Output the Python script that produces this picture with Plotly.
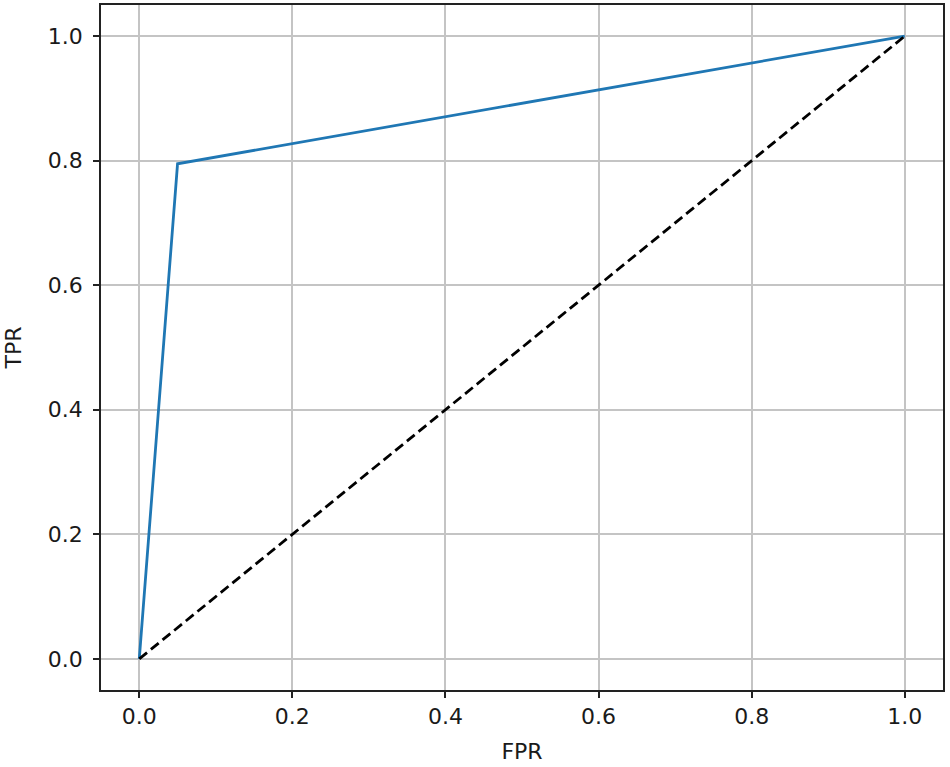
import plotly.graph_objects as go

# ROC curve values
fpr = [0.0, 0.05, 1.0]
tpr = [0.0, 0.795, 1.0]
# chance line
diag_x = [0.0, 1.0]
diag_y = [0.0, 1.0]
tick_vals = [0.0, 0.2, 0.4, 0.6, 0.8, 1.0]
tick_text = ['0.0', '0.2', '0.4', '0.6', '0.8', '1.0']

font = dict(family='DejaVu Sans', size=22, color='#1a1a1a')

fig = go.Figure()
fig.add_trace(go.Scatter(x=fpr, y=tpr, mode='lines',
                         line=dict(color='#1f77b4', width=2.8), showlegend=False))
fig.add_trace(go.Scatter(x=diag_x, y=diag_y, mode='lines',
                         line=dict(color='black', width=2.8, dash='10px,5px'), showlegend=False))

axis_style = dict(
    tickvals=tick_vals, ticktext=tick_text,
    showgrid=True, gridcolor='#c4c4c4', gridwidth=1.6,
    zeroline=False, showline=True, mirror=True,
    linecolor='#222222', linewidth=1.6,
    ticks='outside', ticklen=6, tickwidth=1.6, tickcolor='#222222',
    tickfont=font,
)

fig.update_xaxes(range=[-0.05, 1.05], title=dict(text='FPR', standoff=15, font=font), **axis_style)
fig.update_yaxes(range=[-0.05, 1.05], ticklabelstandoff=6,
                 title=dict(text='TPR', standoff=20, font=font), **axis_style)

fig.update_layout(width=950, height=767,
                  margin=dict(l=101, r=7, t=5, b=77, autoexpand=False),
                  plot_bgcolor='white', paper_bgcolor='white')

# drop the default page margin so the figure sits at the window corner
fig.write_html("out.html", config={'displayModeBar': False},
               post_script="document.body.style.margin='0';")
